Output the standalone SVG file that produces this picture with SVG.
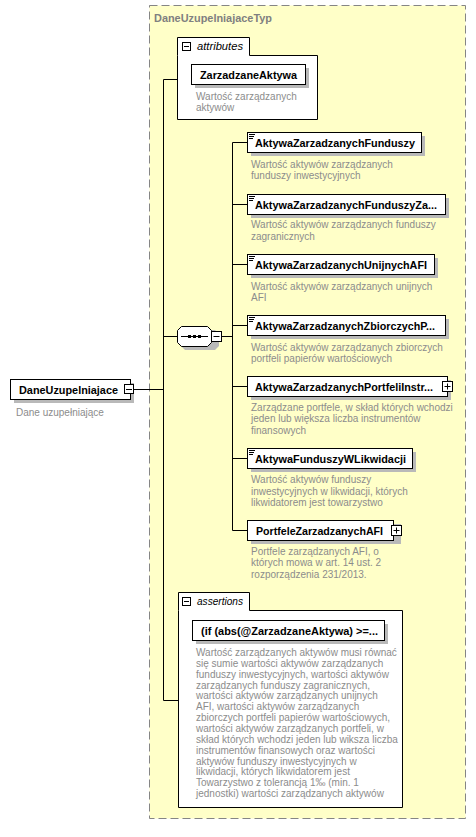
<svg xmlns="http://www.w3.org/2000/svg" width="476" height="837" viewBox="0 0 476 837">
<style>
.lbl{font-family:"Liberation Sans",Arial,sans-serif;font-weight:bold;font-size:11px;fill:#000}
.desc{font-family:"Liberation Sans",Arial,sans-serif;font-size:10px;fill:#8c8c8c}
.it{font-family:"Liberation Sans",Arial,sans-serif;font-style:italic;font-size:11px;fill:#000}
.box{fill:#fff;stroke:#000;stroke-width:1}
.sh{fill:#b9b9b9}
.ln{stroke:#000;stroke-width:1;fill:none}
</style>
<rect width="476" height="837" fill="#fff"/>
<g id="DaneUzupelniajaceTyp">
<rect x="149.5" y="5.5" width="316" height="813" fill="#ffffc8" stroke="#858585" stroke-dasharray="8,4"/>
<text x="154" y="22" class="lbl" style="fill:#808080" textLength="118" lengthAdjust="spacingAndGlyphs">DaneUzupelniajaceTyp</text>
</g>
<g id="connectors">
<path class="ln" d="M134,389.5 H163.5 M163.5,79.5 V700.5 M163.5,79.5 H177 M163.5,336.5 H177 M163.5,700.5 H178 M222,336.5 H232.5 M232.5,142.5 V530.5 M232.5,142.5 H247 M232.5,204.5 H247 M232.5,264.5 H247 M232.5,325.5 H247 M232.5,386.5 H247 M232.5,458.5 H247 M232.5,530.5 H247"/>
</g>
<g id="DaneUzupelniajace">
<rect x="14" y="383" width="120" height="20" class="sh"/>
<rect x="10.5" y="379.5" width="120" height="20" class="box"/>
<text x="19" y="393.5" class="lbl" textLength="99" lengthAdjust="spacingAndGlyphs">DaneUzupelniajace</text>
<rect x="124.5" y="384.5" width="9" height="9" class="box"/>
<path class="ln" d="M126,389.5 H132"/>
<text x="16" y="416" class="desc">Dane uzupełniające</text>
</g>
<g id="attributes">
<path class="box" d="M177.5,55.5 V37.5 H249.5 V55.5 H317.5 V119.5 H177.5 Z"/>
<rect x="182.5" y="42.5" width="8" height="8" class="box"/>
<path class="ln" d="M184,46.5 H189"/>
<text x="197" y="50" class="it" textLength="46" lengthAdjust="spacingAndGlyphs">attributes</text>
</g>
<g id="ZarzadzaneAktywa">
<rect x="195" y="68" width="114" height="20" class="sh"/>
<rect x="191.5" y="64.5" width="114" height="20" class="box"/>
<text x="200" y="78.5" class="lbl" textLength="97" lengthAdjust="spacingAndGlyphs">ZarzadzaneAktywa</text>
<text x="196" y="100" class="desc">Wartość zarządzanych</text>
<text x="196" y="111" class="desc">aktywów</text>
</g>
<g id="sequence">
<path d="M185,330 H215 L219,334 V346 L215,350 H185 L181,346 V334 Z" class="sh"/>
<path d="M181.5,326.5 H207.5 L211.5,330.5 V342.5 L207.5,346.5 H181.5 L177.5,342.5 V330.5 Z" class="box"/>
<path class="ln" d="M181,336.5 H208"/>
<rect x="188" y="335" width="3" height="3" fill="#000"/>
<rect x="193" y="335" width="3" height="3" fill="#000"/>
<rect x="198" y="335" width="3" height="3" fill="#000"/>
<rect x="211.5" y="331.5" width="10" height="10" class="box"/>
<path class="ln" d="M213.5,336.5 H219.5"/>
</g>
<g id="AktywaZarzadzanychFunduszy">
<rect x="251" y="136" width="174" height="20" class="sh"/>
<rect x="247.5" y="132.5" width="174" height="20" class="box"/>
<path class="ln" d="M249,134.5 H255 M249,136.5 H254 M249,138.5 H253"/>
<text x="255" y="147" class="lbl" textLength="160" lengthAdjust="spacingAndGlyphs">AktywaZarzadzanychFunduszy</text>
<text x="251" y="168" class="desc">Wartość aktywów zarządzanych</text>
<text x="251" y="179" class="desc">funduszy inwestycyjnych</text>
</g>
<g id="AktywaZarzadzanychFunduszyZa">
<rect x="251" y="198" width="198" height="20" class="sh"/>
<rect x="247.5" y="194.5" width="198" height="20" class="box"/>
<path class="ln" d="M249,196.5 H255 M249,198.5 H254 M249,200.5 H253"/>
<text x="255" y="209" class="lbl" textLength="182" lengthAdjust="spacingAndGlyphs">AktywaZarzadzanychFunduszyZa...</text>
<text x="251" y="228" class="desc">Wartość aktywów zarządzanych funduszy</text>
<text x="251" y="240" class="desc">zagranicznych</text>
</g>
<g id="AktywaZarzadzanychUnijnychAFI">
<rect x="251" y="258" width="187" height="20" class="sh"/>
<rect x="247.5" y="254.5" width="187" height="20" class="box"/>
<path class="ln" d="M249,256.5 H255 M249,258.5 H254 M249,260.5 H253"/>
<text x="255" y="269" class="lbl" textLength="172" lengthAdjust="spacingAndGlyphs">AktywaZarzadzanychUnijnychAFI</text>
<text x="251" y="290" class="desc">Wartość aktywów zarządzanych unijnych</text>
<text x="251" y="301" class="desc">AFI</text>
</g>
<g id="AktywaZarzadzanychZbiorczychP">
<rect x="251" y="319" width="198" height="20" class="sh"/>
<rect x="247.5" y="315.5" width="198" height="20" class="box"/>
<path class="ln" d="M249,317.5 H255 M249,319.5 H254 M249,321.5 H253"/>
<text x="255" y="330" class="lbl" textLength="180" lengthAdjust="spacingAndGlyphs">AktywaZarzadzanychZbiorczychP...</text>
<text x="251" y="351" class="desc">Wartość aktywów zarządzanych zbiorczych</text>
<text x="251" y="362" class="desc">portfeli papierów wartościowych</text>
</g>
<g id="AktywaZarzadzanychPortfeliInstr">
<rect x="251" y="380" width="200" height="20" class="sh"/>
<rect x="247.5" y="376.5" width="200" height="20" class="box"/>
<text x="255" y="391" class="lbl" textLength="178" lengthAdjust="spacingAndGlyphs">AktywaZarzadzanychPortfeliInstr...</text>
<rect x="442.5" y="381.5" width="10" height="10" class="box"/>
<path class="ln" d="M444.5,386.5 H450.5 M447.5,383.5 V389.5"/>
<text x="251" y="411" class="desc">Zarządzane portfele, w skład których wchodzi</text>
<text x="251" y="422" class="desc">jeden lub większa liczba instrumentów</text>
<text x="251" y="434" class="desc">finansowych</text>
</g>
<g id="AktywaFunduszyWLikwidacji">
<rect x="251" y="452" width="165" height="20" class="sh"/>
<rect x="247.5" y="448.5" width="165" height="20" class="box"/>
<path class="ln" d="M249,450.5 H255 M249,452.5 H254 M249,454.5 H253"/>
<text x="255" y="463" class="lbl" textLength="151" lengthAdjust="spacingAndGlyphs">AktywaFunduszyWLikwidacji</text>
<text x="251" y="483" class="desc">Wartość aktywów funduszy</text>
<text x="251" y="495" class="desc">inwestycyjnych w likwidacji, których</text>
<text x="251" y="506" class="desc">likwidatorem jest towarzystwo</text>
</g>
<g id="PortfeleZarzadzanychAFI">
<rect x="251" y="524" width="150" height="20" class="sh"/>
<rect x="247.5" y="520.5" width="146" height="20" class="box"/>
<text x="256" y="535" class="lbl" textLength="127" lengthAdjust="spacingAndGlyphs">PortfeleZarzadzanychAFI</text>
<rect x="391.5" y="525.5" width="10" height="10" class="box"/>
<path class="ln" d="M393.5,530.5 H399.5 M396.5,527.5 V533.5"/>
<text x="251" y="555" class="desc">Portfele zarządzanych AFI, o</text>
<text x="251" y="566" class="desc">których mowa w art. 14 ust. 2</text>
<text x="251" y="578" class="desc">rozporządzenia 231/2013.</text>
</g>
<g id="assertions">
<path class="box" d="M178.5,610.5 V592.5 H249.5 V610.5 H402.5 V807.5 H178.5 Z"/>
<rect x="182.5" y="597.5" width="8" height="8" class="box"/>
<path class="ln" d="M184,601.5 H189"/>
<text x="197" y="605" class="it" textLength="46" lengthAdjust="spacingAndGlyphs">assertions</text>
</g>
<g id="assertion">
<rect x="196" y="624" width="192" height="20" class="sh"/>
<rect x="192.5" y="620.5" width="192" height="20" class="box"/>
<text x="201" y="635" class="lbl" textLength="177" lengthAdjust="spacingAndGlyphs">(if (abs(@ZarzadzaneAktywa) &gt;=...</text>
<text class="desc">
<tspan x="196" y="656">Wartość zarządzanych aktywów musi równać</tspan>
<tspan x="196" y="666.85">się sumie wartości aktywów zarządzanych</tspan>
<tspan x="196" y="677.7">funduszy inwestycyjnych, wartości aktywów</tspan>
<tspan x="196" y="688.55">zarządzanych funduszy zagranicznych,</tspan>
<tspan x="196" y="699.4">wartości aktywów zarządzanych unijnych</tspan>
<tspan x="196" y="710.25">AFI, wartości aktywów zarządzanych</tspan>
<tspan x="196" y="721.1">zbiorczych portfeli papierów wartościowych,</tspan>
<tspan x="196" y="731.95">wartości aktywów zarządzanych portfeli, w</tspan>
<tspan x="196" y="742.8">skład których wchodzi jeden lub wiksza liczba</tspan>
<tspan x="196" y="753.65">instrumentów finansowych oraz wartości</tspan>
<tspan x="196" y="764.5">aktywów funduszy inwestycyjnych w</tspan>
<tspan x="196" y="775.35">likwidacji, których likwidatorem jest</tspan>
<tspan x="196" y="786.2">Towarzystwo z tolerancją 1‰ (min. 1</tspan>
<tspan x="196" y="797">jednostki) wartości zarządzanych aktywów</tspan>
</text>
</g>
</svg>
